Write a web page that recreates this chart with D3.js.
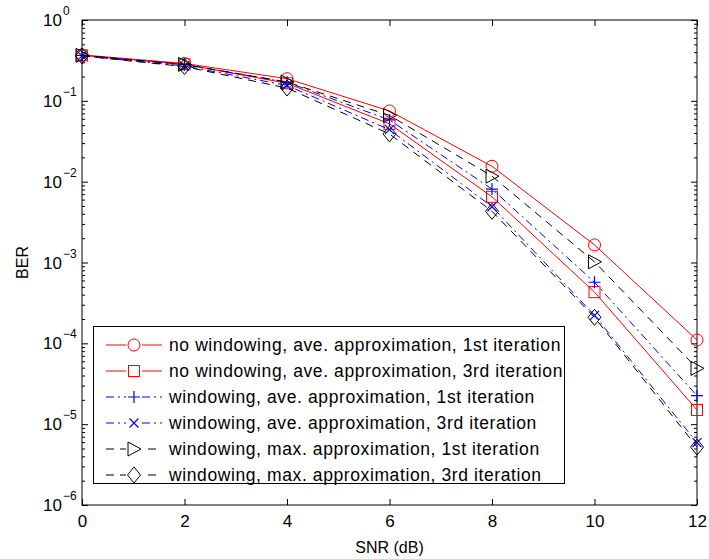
<!DOCTYPE html>
<html>
<head>
<meta charset="utf-8">
<script src="https://cdn.jsdelivr.net/npm/d3@7"></script>
<style>
  body { margin: 0; background: #fff; }
  svg { font-family: "Liberation Sans", Arial, Helvetica, sans-serif; }
</style>
</head>
<body>
<div id="chart"></div>
<script>
// Data
const snr = [0, 2, 4, 6, 8, 10, 12];
const noWinAve1st = [0.37, 0.29, 0.188, 0.075, 0.0155, 0.00165, 0.00011];
const noWinAve3rd = [0.365, 0.283, 0.165, 0.052, 0.0065, 0.00043, 0.000015];
const winAve1st = [0.365, 0.28, 0.17, 0.058, 0.0081, 0.00057, 0.0000225];
const winAve3rd = [0.36, 0.27, 0.155, 0.044, 0.0049, 0.000222, 0.0000059];
const winMax1st = [0.365, 0.282, 0.171, 0.066, 0.0117, 0.00102, 0.000049];
const winMax3rd = [0.36, 0.265, 0.144, 0.039, 0.0043, 0.00021, 0.0000052];
const xTicks = [0, 2, 4, 6, 8, 10, 12];
const yExponents = [0, -1, -2, -3, -4, -5, -6];
const legendLabels = [
  "no windowing, ave. approximation, 1st iteration",
  "no windowing, ave. approximation, 3rd iteration",
  "windowing, ave. approximation, 1st iteration",
  "windowing, ave. approximation, 3rd iteration",
  "windowing, max. approximation, 1st iteration",
  "windowing, max. approximation, 3rd iteration"
];

const series = [
  { values: noWinAve1st, color: "#ff0000", dash: null, marker: "circle" },
  { values: noWinAve3rd, color: "#ff0000", dash: null, marker: "square" },
  { values: winAve1st, color: "#0000ff", dash: "8,4,2,4", marker: "plus" },
  { values: winAve3rd, color: "#0000ff", dash: "8,4,2,4", marker: "cross" },
  { values: winMax1st, color: "#000000", dash: "8,6", marker: "triangle" },
  { values: winMax3rd, color: "#000000", dash: "8,6", marker: "diamond" }
];

const width = 709, height = 559;
const plotLeft = 82, plotRight = 697, plotTop = 20, plotBottom = 505;

const svg = d3.select("#chart").append("svg")
  .attr("width", width)
  .attr("height", height);

const x = d3.scaleLinear().domain([0, 12]).range([plotLeft, plotRight]);
const y = d3.scaleLog().domain([1e-6, 1]).range([plotBottom, plotTop]);

// minor tick values for the log axis
const minorTicks = [];
for (let e = -6; e < 0; e++) {
  for (let m = 2; m <= 9; m++) minorTicks.push(m * Math.pow(10, e));
}
const majorTicks = yExponents.map(e => Math.pow(10, e));

// Axes (MATLAB style: ticks pointing inward on all four sides)
svg.append("g")
  .attr("transform", `translate(0,${plotBottom})`)
  .call(d3.axisBottom(x).tickValues(xTicks).tickSizeInner(-6).tickSizeOuter(0).tickPadding(10))
  .call(g => g.selectAll("text").attr("font-size", 17).attr("fill", "#000"));
svg.append("g")
  .attr("transform", `translate(0,${plotTop})`)
  .call(d3.axisTop(x).tickValues(xTicks).tickSizeInner(-6).tickSizeOuter(0).tickFormat(""));

svg.append("g")
  .attr("transform", `translate(${plotLeft},0)`)
  .call(d3.axisLeft(y).tickValues(majorTicks).tickSizeInner(-6).tickSizeOuter(0).tickFormat(""));
svg.append("g")
  .attr("transform", `translate(${plotLeft},0)`)
  .call(d3.axisLeft(y).tickValues(minorTicks).tickSizeInner(-3).tickSizeOuter(0).tickFormat(""));
svg.append("g")
  .attr("transform", `translate(${plotRight},0)`)
  .call(d3.axisRight(y).tickValues(majorTicks).tickSizeInner(-6).tickSizeOuter(0).tickFormat(""));
svg.append("g")
  .attr("transform", `translate(${plotRight},0)`)
  .call(d3.axisRight(y).tickValues(minorTicks).tickSizeInner(-3).tickSizeOuter(0).tickFormat(""));

svg.selectAll(".domain").remove();
svg.selectAll(".tick line").attr("stroke", "#000");

// box
svg.append("rect")
  .attr("x", plotLeft).attr("y", plotTop)
  .attr("width", plotRight - plotLeft).attr("height", plotBottom - plotTop)
  .attr("fill", "none").attr("stroke", "#000").attr("stroke-width", 1);

// y tick labels 10^k
const yl = svg.append("g").selectAll("g.ylab").data(yExponents).join("g");
yl.append("text")
  .attr("x", 62).attr("y", d => y(Math.pow(10, d)) + 6)
  .attr("text-anchor", "end").attr("font-size", 17)
  .text("10");
yl.append("text")
  .attr("x", 63).attr("y", d => y(Math.pow(10, d)) - 5)
  .attr("font-size", 12)
  .text(d => d === 0 ? "0" : "\u2212" + Math.abs(d));

// axis titles
svg.append("text")
  .attr("x", (plotLeft + plotRight) / 2).attr("y", 553)
  .attr("text-anchor", "middle").attr("font-size", 16)
  .text("SNR (dB)");
svg.append("text")
  .attr("transform", `translate(28,${(plotTop + plotBottom) / 2}) rotate(-90)`)
  .attr("text-anchor", "middle").attr("font-size", 16)
  .text("BER");

// markers
function drawMarker(g, type, color) {
  const s = 6;
  if (type === "circle") {
    g.append("circle").attr("r", 6).attr("fill", "none").attr("stroke", color);
  } else if (type === "square") {
    g.append("rect").attr("x", -5.5).attr("y", -5.5).attr("width", 11).attr("height", 11)
      .attr("fill", "none").attr("stroke", color);
  } else if (type === "plus") {
    g.append("path").attr("d", `M${-s},0H${s}M0,${-s}V${s}`).attr("stroke", color).attr("stroke-width", 1.2);
  } else if (type === "cross") {
    const c = 4.5;
    g.append("path").attr("d", `M${-c},${-c}L${c},${c}M${-c},${c}L${c},${-c}`).attr("stroke", color).attr("stroke-width", 1.2);
  } else if (type === "triangle") {
    g.append("path").attr("d", `M-6,-7L7,0L-6,7Z`).attr("fill", "none").attr("stroke", color);
  } else if (type === "diamond") {
    g.append("path").attr("d", `M0,-8L6.5,0L0,8L-6.5,0Z`).attr("fill", "none").attr("stroke", color);
  }
}

const line = d3.line().x((d, i) => x(snr[i])).y(d => y(d));

const plot = svg.append("g");
series.forEach(s => {
  plot.append("path")
    .datum(s.values)
    .attr("d", line)
    .attr("fill", "none")
    .attr("stroke", s.color)
    .attr("stroke-width", 1)
    .attr("stroke-dasharray", s.dash);
  plot.selectAll(null)
    .data(s.values)
    .join("g")
    .attr("transform", (d, i) => `translate(${x(snr[i])},${y(d)})`)
    .each(function () { drawMarker(d3.select(this), s.marker, s.color); });
});

// legend
const legend = svg.append("g");
legend.append("rect")
  .attr("x", 93.5).attr("y", 326.5).attr("width", 471).attr("height", 157)
  .attr("fill", "#fff").attr("stroke", "#000");
series.forEach((s, i) => {
  const ly = 345 + i * 26;
  legend.append("line")
    .attr("x1", 106).attr("x2", 162).attr("y1", ly).attr("y2", ly)
    .attr("stroke", s.color).attr("stroke-dasharray", s.dash);
  const g = legend.append("g").attr("transform", `translate(134,${ly})`);
  g.append("rect").attr("x", -8).attr("y", -8).attr("width", 16).attr("height", 16).attr("fill", "#fff");
  drawMarker(g, s.marker, s.color);
  legend.append("text")
    .attr("x", 169).attr("y", ly + 6)
    .attr("font-size", 17.5)
    .attr("letter-spacing", 0.6)
    .text(legendLabels[i]);
});
</script>
</body>
</html>
